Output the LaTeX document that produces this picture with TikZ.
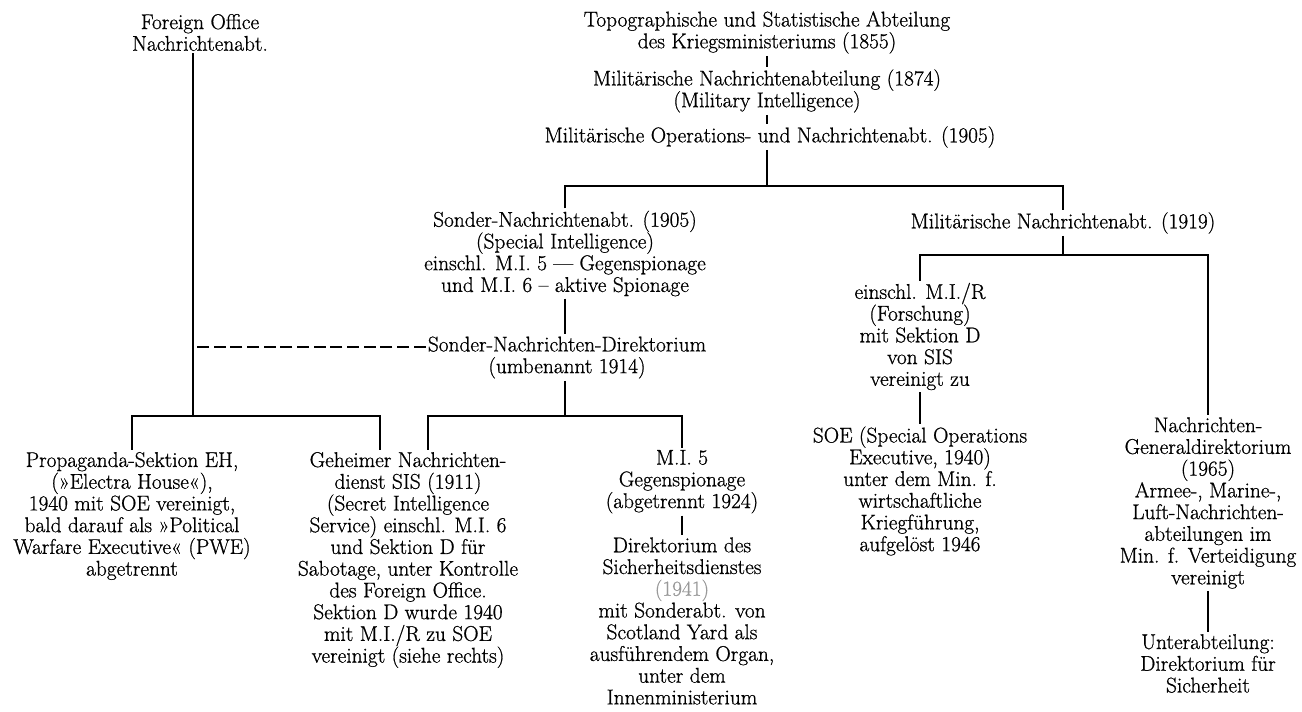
\documentclass[tikz,border=0pt]{standalone}
\usepackage{xcolor}
\usepackage{fontspec}
\setmainfont{Latin Modern Roman}[FakeBold=0.8]

\begin{document}
\begin{tikzpicture}[x=0.75pt,y=0.75pt,yscale=-1,xscale=1,
  lbl/.style={align=center,inner sep=1.5pt,font=\fontsize{16}{16.3}\selectfont},
  link/.style={line width=1.4pt},
  dashlink/.style={line width=1.2pt,dash pattern=on 9pt off 3.5pt}]
\useasboundingbox (0,0) rectangle (1302,712);

% Text Node
\node (fo) at (200,32.5) [lbl] {Foreign Office\\Nachrichtenabt.};
% Text Node
\node (topo) at (767,32.5) [lbl] {Topographische und Statistische Abteilung\\des Kriegsministeriums (1855)};
% Text Node
\node (milna) at (767,91) [lbl] {Militärische Nachrichtenabteilung (1874)\\(Military Intelligence)};
% Text Node
\node (milops) at (770,137) [lbl] {Militärische Operations- und Nachrichtenabt. (1905)};
% Text Node
\node (sonder) at (565,253.5) [lbl] {Sonder-Nachrichtenabt. (1905)\\(Special Intelligence)\\einschl. M.I. 5 — Gegenspionage\\und M.I. 6 – aktive Spionage};
% Text Node
\node (sdir) at (567,357.5) [lbl] {Sonder-Nachrichten-Direktorium\\(umbenannt 1914)};
% Text Node
\node (mil19) at (1063,223) [lbl] {Militärische Nachrichtenabt. (1919)};
% Text Node
\node (mir) at (920,336.5) [lbl] {einschl. M.I./R\\(Forschung)\\mit Sektion D\\von SIS\\vereinigt zu};
% Text Node
\node (soe) at (920,491) [lbl] {SOE (Special Operations\\Executive, 1940)\\unter dem Min. f.\\wirtschaftliche\\Kriegführung,\\aufgelöst 1946};
% Text Node
\node (gd) at (1208,503) [lbl] {Nachrichten-\\Generaldirektorium\\(1965)\\Armee-, Marine-,\\Luft-Nachrichten-\\abteilungen im\\Min. f. Verteidigung\\vereinigt};
% Text Node
\node (unter) at (1208,663.5) [lbl] {Unterabteilung:\\Direktorium für\\Sicherheit};
% Text Node
\node (prop) at (132,516) [lbl] {Propaganda-Sektion EH,\\(»Electra House«),\\1940 mit SOE vereinigt,\\bald darauf als »Political\\Warfare Executive« (PWE)\\abgetrennt};
% Text Node
\node (sis) at (408,560) [lbl] {Geheimer Nachrichten-\\dienst SIS (1911)\\(Secret Intelligence\\Service) einschl. M.I. 6\\und Sektion D für\\Sabotage, unter Kontrolle\\des Foreign Office.\\Sektion D wurde 1940\\mit M.I./R zu SOE\\vereinigt (siehe rechts)};
% Text Node
\node (mi5) at (682,481.7) [lbl] {M.I. 5\\Gegenspionage\\(abgetrennt 1924)};
% Text Node
\node (dsd) at (682,621) [lbl] {Direktorium des\\Sicherheitsdienstes\\{\color{black!40}(1941)}\\mit Sonderabt. von\\Scotland Yard als\\ausführendem Organ,\\unter dem\\Innenministerium};

% Junctions
\coordinate (j1) at (767,186);
\coordinate (j2) at (1063,255);
\coordinate (j3) at (565,416);
\coordinate (j4) at (193,416);
\coordinate (s1) at (428,416);
\coordinate (s2) at (380,416);

%Straight Lines
\draw [link] (topo) -- (milna);
\draw [link] (milna.south) -- (milops.north -| milna);
\draw [link] (milops.south -| j1) -- (j1);
\draw [link] (sonder.north) |- (j1) -| (mil19.north);
\draw [link] (mil19.south) -- (j2);
\draw [link] (mir.north) |- (j2) -| (gd.north);
\draw [link] (mir) -- (soe);
\draw [link] (gd) -- (unter);
\draw [link] (sonder.south) -- (sdir.north -| sonder);
\draw [link] (sdir.south -| j3) -- (j3);
\draw [link] (sis.north -| s1) |- (j3) -| (mi5.north);
\draw [link] (mi5) -- (dsd);
\draw [link] (fo.south -| j4) -- (j4);
\draw [link] (prop.north) |- (s2) -- (sis.north -| s2);
%Dashed Line
\draw [dashlink] ([yshift=-8pt]sdir.west) -- ([yshift=-8pt]sdir.west -| j4);

\end{tikzpicture}
\end{document}
